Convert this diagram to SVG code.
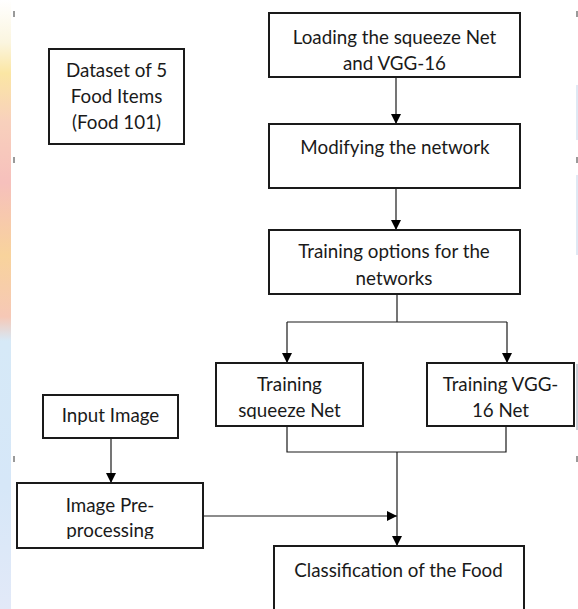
<svg xmlns="http://www.w3.org/2000/svg" width="578" height="609" viewBox="0 0 578 609">
  <defs>
    <linearGradient id="edge" x1="0" y1="0" x2="0" y2="1">
      <stop offset="0" stop-color="#ffffff"/>
      <stop offset="0.07" stop-color="#fbf5df"/>
      <stop offset="0.12" stop-color="#fbe6a4"/>
      <stop offset="0.2" stop-color="#f8d0bc"/>
      <stop offset="0.3" stop-color="#f6c0bc"/>
      <stop offset="0.42" stop-color="#f8d39c"/>
      <stop offset="0.52" stop-color="#f6c8b6"/>
      <stop offset="0.56" stop-color="#d6e9f7"/>
      <stop offset="0.8" stop-color="#d6e7f8"/>
      <stop offset="1" stop-color="#e2e9f8"/>
    </linearGradient>
    <marker id="arrow" markerUnits="userSpaceOnUse" markerWidth="10" markerHeight="10" refX="10" refY="5" orient="auto">
      <path d="M0,0 L10,5 L0,10 z" fill="#000"/>
    </marker>
    <clipPath id="clipPre"><rect x="17" y="483" width="186" height="56"/></clipPath>
    <clipPath id="clipSq"><rect x="216" y="363" width="147" height="56"/></clipPath>
  </defs>
  <style>
    .box { fill: #ffffff; stroke: #1a1a1a; stroke-width: 2; }
    .lbl { font-family: Lato, "Open Sans", "Liberation Sans", sans-serif; font-size: 18.8px; fill: #1a1a1a; text-anchor: middle; }
    .con { fill: none; stroke: #1a1a1a; stroke-width: 1.2; }
    .mark { fill: #9a9a9a; }
  </style>

  <rect x="0" y="0" width="578" height="609" fill="#ffffff"/>
  <rect x="0" y="0" width="11" height="609" fill="url(#edge)"/>
  <rect class="mark" x="13" y="11" width="2" height="6"/>
  <rect class="mark" x="13" y="157" width="2" height="6"/>
  <rect class="mark" x="13" y="456" width="2" height="6"/>
  <rect class="mark" x="576" y="11" width="2" height="6"/>
  <rect class="mark" x="576" y="157" width="2" height="6"/>
  <rect class="mark" x="576" y="456" width="2" height="6"/>
  <rect x="576" y="85" width="2" height="55" fill="#dfe8f3"/>
  <rect x="576" y="175" width="2" height="80" fill="#dfe8f3"/>
  <rect x="576" y="364" width="2" height="66" fill="#c9ced6"/>

  <g id="connectors">
    <line class="con" x1="396" y1="77" x2="396" y2="124" marker-end="url(#arrow)"/>
    <line class="con" x1="396" y1="188" x2="396" y2="230" marker-end="url(#arrow)"/>
    <polyline class="con" points="397,294 397,322"/>
    <polyline class="con" points="287,322 507,322"/>
    <line class="con" x1="287" y1="322" x2="287" y2="363" marker-end="url(#arrow)"/>
    <line class="con" x1="507" y1="322" x2="507" y2="363" marker-end="url(#arrow)"/>
    <polyline class="con" points="287,426 287,452 506,452 506,426"/>
    <line class="con" x1="397" y1="452" x2="397" y2="546" marker-end="url(#arrow)"/>
    <line class="con" x1="111" y1="438" x2="111" y2="483" marker-end="url(#arrow)"/>
    <line class="con" x1="203" y1="516" x2="397" y2="516" marker-end="url(#arrow)"/>
  </g>

  <g id="dataset">
    <rect class="box" x="49" y="49" width="135" height="95"/>
    <text class="lbl" x="116.5" y="77">Dataset of 5</text>
    <text class="lbl" x="116.5" y="103">Food Items</text>
    <text class="lbl" x="116.5" y="129">(Food 101)</text>
  </g>
  <g id="loading">
    <rect class="box" x="269" y="13" width="251" height="64"/>
    <text class="lbl" x="394.5" y="44">Loading the squeeze Net</text>
    <text class="lbl" x="394.5" y="70">and VGG-16</text>
  </g>
  <g id="modifying">
    <rect class="box" x="269" y="124" width="251" height="64"/>
    <text class="lbl" x="395" y="154">Modifying the network</text>
  </g>
  <g id="options">
    <rect class="box" x="269" y="230" width="251" height="64"/>
    <text class="lbl" x="394" y="258">Training options for the</text>
    <text class="lbl" x="394" y="285">networks</text>
  </g>
  <g id="train-squeeze">
    <rect class="box" x="216" y="363" width="147" height="63"/>
    <g clip-path="url(#clipSq)">
      <text class="lbl" x="289.5" y="391">Training</text>
      <text class="lbl" x="289.5" y="417">squeeze Net</text>
    </g>
  </g>
  <g id="train-vgg">
    <rect class="box" x="427" y="363" width="147" height="63"/>
    <text class="lbl" x="500.5" y="391">Training VGG-</text>
    <text class="lbl" x="500.5" y="417">16 Net</text>
  </g>
  <g id="input">
    <rect class="box" x="43" y="395" width="135" height="43"/>
    <text class="lbl" x="110.5" y="422">Input Image</text>
  </g>
  <g id="preprocessing">
    <rect class="box" x="17" y="483" width="186" height="65"/>
    <g clip-path="url(#clipPre)">
      <text class="lbl" x="110" y="512">Image Pre-</text>
      <text class="lbl" x="110" y="537">processing</text>
    </g>
  </g>
  <g id="classification">
    <rect class="box" x="274" y="546" width="250" height="80"/>
    <text class="lbl" x="398.5" y="577">Classification of the Food</text>
  </g>
</svg>
